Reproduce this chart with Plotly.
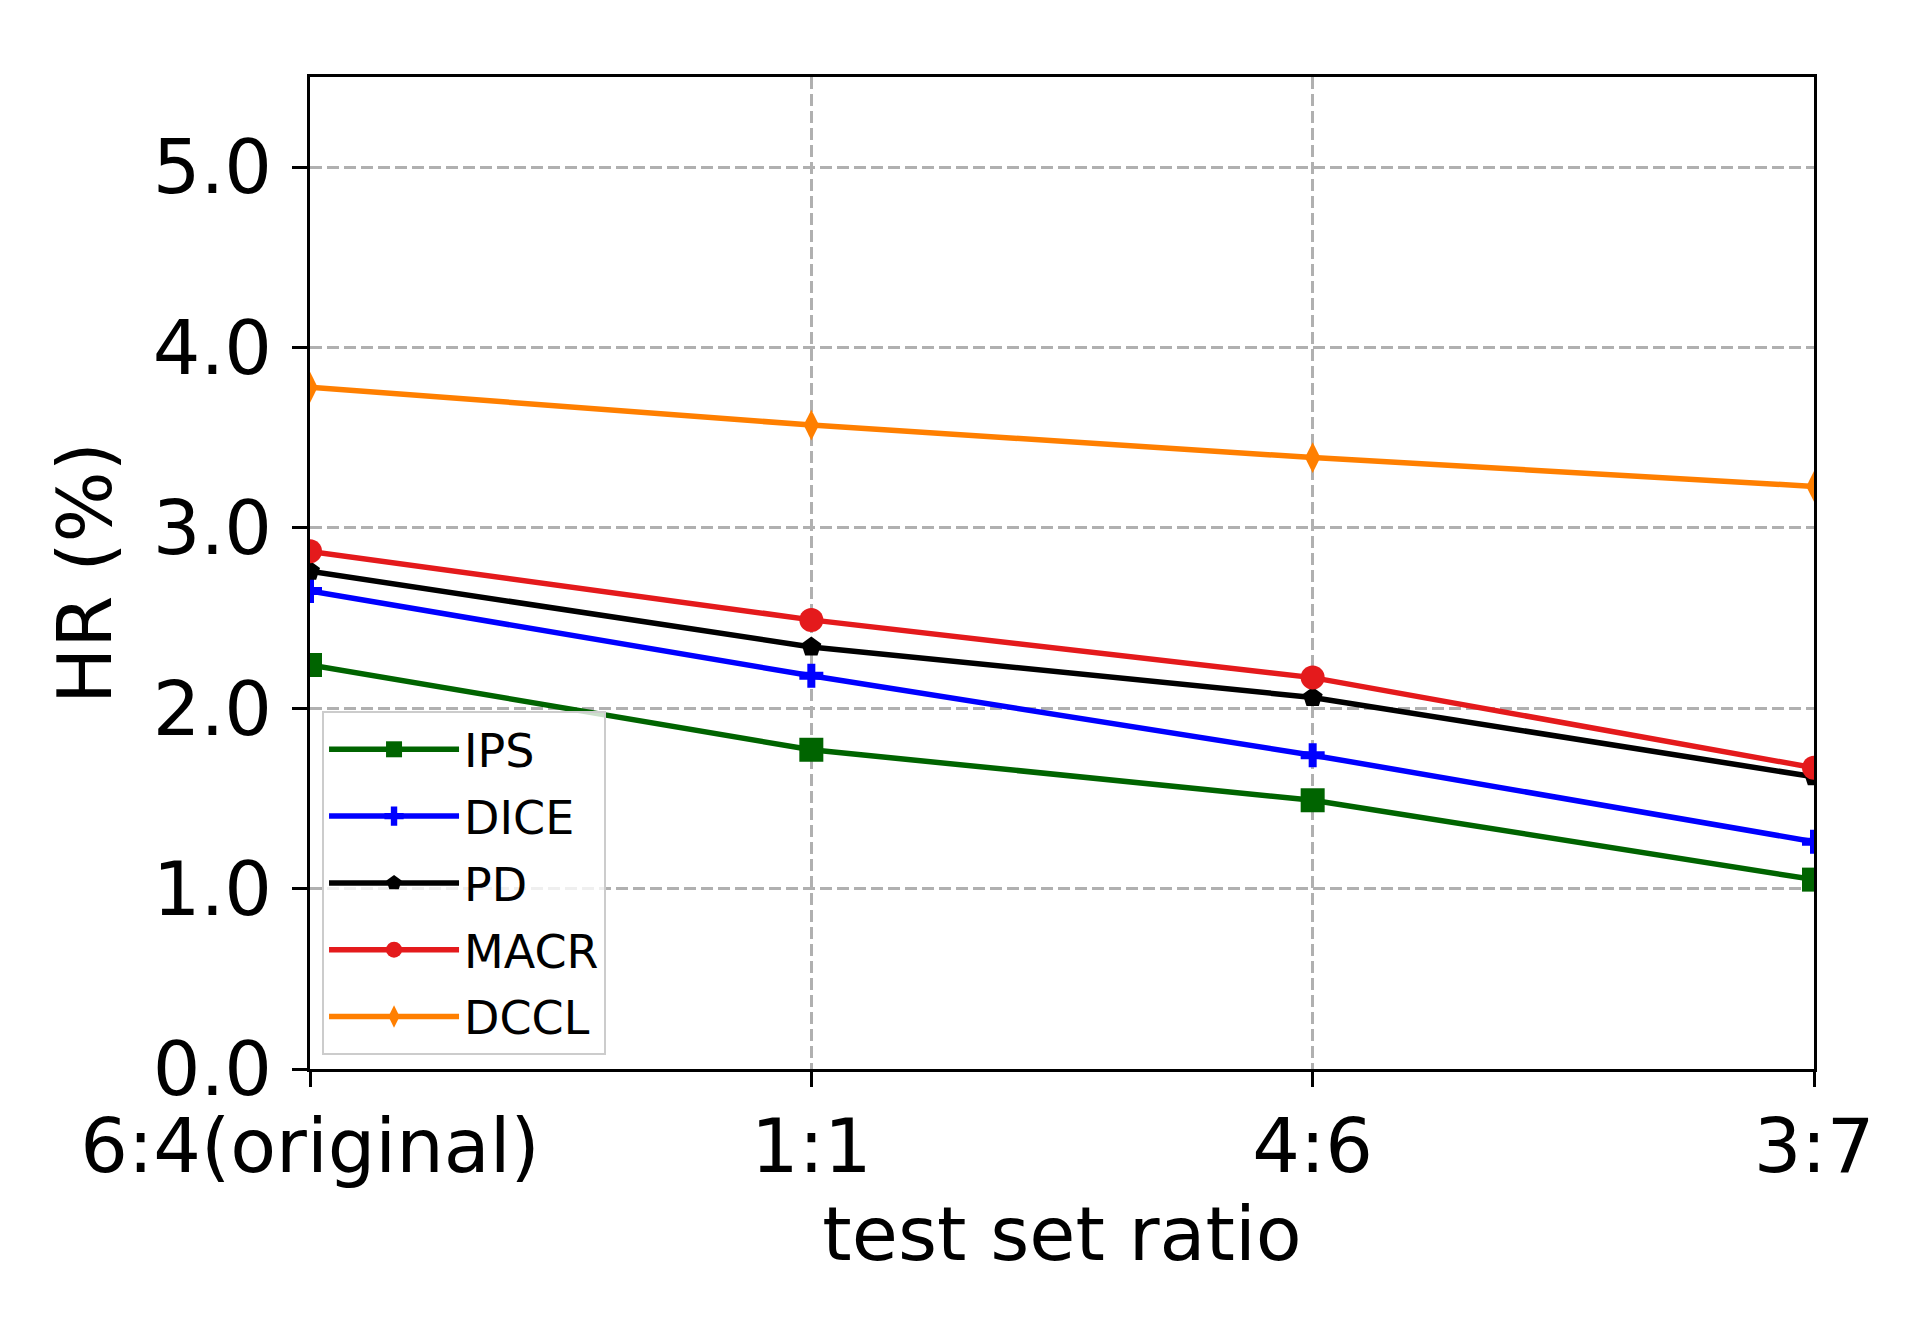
import plotly.graph_objects as go

# test set split ratios (x categories)
ratios = ['6:4(original)', '1:1', '4:6', '3:7']

# HR (%) per method
hr_ips = [2.24, 1.77, 1.49, 1.05]
hr_dice = [2.65, 2.18, 1.74, 1.26]
hr_pd = [2.76, 2.34, 2.06, 1.62]
hr_macr = [2.87, 2.49, 2.17, 1.67]
hr_dccl = [3.78, 3.57, 3.39, 3.23]

y_ticks = [0, 1, 2, 3, 4, 5]

# name, values, colour, marker symbol, marker size
series = [
     ('IPS', hr_ips, '#006400', 'square', 24),
     ('DICE', hr_dice, '#0000ff', 'cross', 20),
     ('PD', hr_pd, '#000000', 'pentagon', 21),
     ('MACR', hr_macr, '#e41a1c', 'circle', 24),
     ('DCCL', hr_dccl, '#ff7f00', 'diamond-tall', 22),
]

fig = go.Figure()
for name, vals, color, symbol, size in series:
     fig.add_trace(go.Scatter(
          x=ratios, y=vals, name=name, mode='lines+markers',
          legendgroup=name,
          line={'color': color, 'width': 5.5},
          marker={'symbol': symbol, 'size': size, 'color': color},
     ))

font = 'DejaVu Sans'
axis_common = {
     'showline': True, 'linecolor': 'black', 'linewidth': 3, 'mirror': True,
     'ticks': 'outside', 'ticklen': 15, 'tickwidth': 3, 'tickcolor': 'black',
     'showgrid': True, 'gridcolor': '#b0b0b0', 'gridwidth': 3, 'griddash': '12px,5px',
     'zeroline': False,
     'tickfont': {'size': 75, 'family': font, 'color': 'black'},
}

fig.update_xaxes(type='category', range=[0, 3], ticklabelstandoff=-5,
                 title={'text': 'test set ratio', 'font': {'size': 75, 'family': font, 'color': 'black'},
                        'standoff': 14},
                 **axis_common)
fig.update_yaxes(range=[0, 5.5], tickvals=y_ticks, tickformat='.1f', ticklabelstandoff=5,
                 title={'text': 'HR (%)', 'font': {'size': 75, 'family': font, 'color': 'black'},
                        'standoff': 17},
                 **axis_common)

fig.update_layout(
     width=1920, height=1320,
     margin={'l': 302, 'r': 114, 't': 69, 'b': 259},
     plot_bgcolor='white', paper_bgcolor='white',
     font={'family': font, 'color': 'black'},
     legend={'x': 0.008, 'y': 0.361, 'xanchor': 'left', 'yanchor': 'top',
             'bgcolor': 'rgba(255,255,255,0.8)', 'bordercolor': '#cccccc', 'borderwidth': 2,
             'font': {'size': 46, 'family': font, 'color': 'black'},
             'tracegroupgap': 4, 'itemwidth': 130},
)

fig.write_html('out.html')
